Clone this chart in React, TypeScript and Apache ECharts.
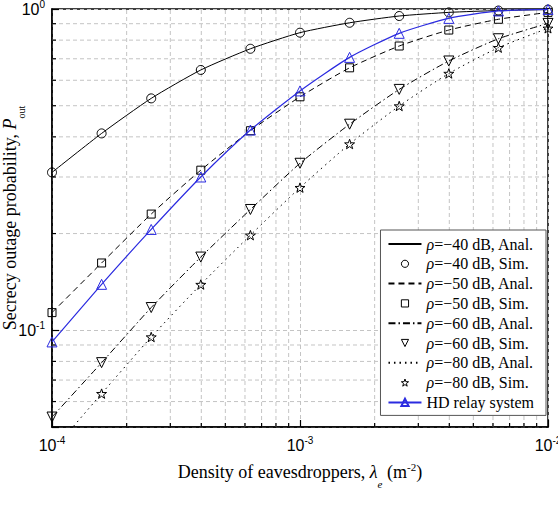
import React, { useEffect, useRef } from "react";
import * as echarts from "echarts";

// ---- data ----
const densities = [1e-4, 1.585e-4, 2.512e-4, 3.981e-4, 6.31e-4, 1e-3, 1.585e-3, 2.512e-3, 3.981e-3, 6.31e-3, 1e-2];
const anal40 = [0.31, 0.41, 0.527, 0.646, 0.752, 0.844, 0.906, 0.951, 0.976, 0.989, 0.996];
const sim40 = [0.31, 0.41, 0.527, 0.646, 0.752, 0.844, 0.906, 0.951, 0.976, 0.989, 0.996];
const anal50 = [0.1135, 0.162, 0.23, 0.315, 0.418, 0.533, 0.656, 0.767, 0.86, 0.929, 0.976];
const sim50 = [0.1135, 0.162, 0.23, 0.315, 0.418, 0.533, 0.656, 0.767, 0.86, 0.929, 0.976];
const anal60 = [0.0537, 0.0793, 0.1177, 0.169, 0.2377, 0.331, 0.438, 0.562, 0.689, 0.808, 0.902];
const sim60 = [0.0537, 0.0793, 0.1177, 0.169, 0.2377, 0.331, 0.438, 0.562, 0.689, 0.808, 0.902];
const anal80 = [0.042, 0.0635, 0.0953, 0.1388, 0.1977, 0.278, 0.38, 0.499, 0.63, 0.758, 0.871];
const sim80 = [0.042, 0.0635, 0.0953, 0.1388, 0.1977, 0.278, 0.38, 0.499, 0.63, 0.758, 0.871];
const hdRelay = [0.092, 0.139, 0.206, 0.3, 0.42, 0.556, 0.707, 0.84, 0.935, 0.986, 0.997];

const xMin = 1e-4;
const xMax = 1e-2;
const yMin = 0.05;
const yMax = 1;
const xMinorGrid = [2e-4, 3e-4, 4e-4, 5e-4, 6e-4, 7e-4, 8e-4, 9e-4, 2e-3, 3e-3, 4e-3, 5e-3, 6e-3, 7e-3, 8e-3, 9e-3];
const yMinorGrid = [0.06, 0.07, 0.08, 0.09, 0.2, 0.3, 0.4, 0.5, 0.6, 0.7, 0.8, 0.9];

const names = [
  "ρ=−40 dB, Anal.",
  "ρ=−40 dB, Sim.",
  "ρ=−50 dB, Anal.",
  "ρ=−50 dB, Sim.",
  "ρ=−60 dB, Anal.",
  "ρ=−60 dB, Sim.",
  "ρ=−80 dB, Anal.",
  "ρ=−80 dB, Sim.",
  "HD relay system",
];

const STAR = "path://M0,-10 L2.35,-3.24 L9.51,-3.09 L3.8,1.24 L5.88,8.09 L0,4 L-5.88,8.09 L-3.8,1.24 L-9.51,-3.09 L-2.35,-3.24 Z";
const BLUE = "#2b2be0";
const GRID_GRAY = "#c4c4c4";
const SERIF = "'Liberation Serif', 'Times New Roman', serif";
const SANS = "'Liberation Sans', Arial, sans-serif";

function pairs(ys: number[]) {
  return densities.map((x, i) => [x, ys[i]]);
}

function powLabel(v: number) {
  const e = Math.log10(v);
  if (Math.abs(e - Math.round(e)) > 1e-6) return "";
  const r = Math.round(e);
  return `{b|10}{s|${r === 0 ? "0" : "-" + Math.abs(r)}}`;
}

const labelRich = {
  b: { fontSize: 16, fontFamily: SANS, color: "#000", lineHeight: 20 },
  s: { fontSize: 10, fontFamily: SANS, color: "#000", lineHeight: 10, verticalAlign: "top" as const, padding: [0, 0, 4, 0] },
};

export default function App() {
  const ref = useRef<HTMLDivElement>(null);
  useEffect(() => {
    if (!ref.current) return;
    const chart = echarts.init(ref.current, undefined, { renderer: "svg" });

    const lineSeries = (name: string, ys: number[], type: any, z = 3) => ({
      name,
      type: "line",
      data: pairs(ys),
      symbol: "none",
      smooth: 0.2,
      z,
      clip: true,
      lineStyle: { color: "#000", width: 1, type },
      itemStyle: { color: "#000" },
    });
    const simSeries = (name: string, ys: number[], symbol: string, size: number, rotate = 0) => ({
      name,
      type: "line",
      data: pairs(ys),
      symbol,
      symbolSize: size,
      symbolRotate: rotate,
      symbolKeepAspect: true,
      showAllSymbol: true,
      z: 4,
      clip: true,
      lineStyle: { width: 0, opacity: 0, color: "#000" },
      itemStyle: { color: "transparent", borderColor: "#000", borderWidth: 1 },
    });

    const option: any = {
      animation: false,
      backgroundColor: "#fff",
      grid: {
        left: 52,
        right: 10,
        top: 9,
        bottom: 85,
        containLabel: false,
        outerBoundsMode: "none",
        show: true,
        borderColor: "#000",
        borderWidth: 1.5,
        backgroundColor: "transparent",
      },
      xAxis: {
        type: "log",
        logBase: 10,
        min: xMin,
        max: xMax,
        axisLine: { show: true, lineStyle: { color: "#000", width: 1.5 } },
        axisTick: { show: true, inside: true, length: 7, lineStyle: { color: "#000", width: 1.2 } },
        splitLine: { show: true, lineStyle: { color: GRID_GRAY, type: [4, 3], width: 1 } },
        axisLabel: { formatter: powLabel, rich: labelRich, margin: 8, showMinLabel: true, showMaxLabel: true, hideOverlap: false },
        name: "Density of eavesdroppers, {i|λ}{sub|e} (m{sup|-2})",
        nameLocation: "middle",
        nameGap: 34,
        nameMoveOverlap: false,
        nameTextStyle: {
          fontFamily: SERIF,
          fontSize: 18,
          color: "#000",
          rich: {
            i: { fontFamily: SERIF, fontStyle: "italic", fontSize: 18, color: "#000", lineHeight: 22 },
            sub: { fontFamily: SERIF, fontStyle: "italic", fontSize: 11, color: "#000", lineHeight: 11, verticalAlign: "bottom", padding: [0, 0, -6, 0] },
            sup: { fontFamily: SERIF, fontSize: 11, color: "#000", lineHeight: 11, verticalAlign: "top" },
          },
        },
      },
      yAxis: {
        type: "log",
        logBase: 10,
        min: yMin,
        max: yMax,
        axisLine: { show: true, lineStyle: { color: "#000", width: 1.5 } },
        axisTick: { show: true, inside: true, length: 7, lineStyle: { color: "#000", width: 1.2 } },
        splitLine: { show: true, lineStyle: { color: GRID_GRAY, type: [4, 3], width: 1 } },
        axisLabel: { formatter: powLabel, rich: labelRich, margin: 7, hideOverlap: false },
        name: "Secrecy outage probability, {i|P}{sub|out}",
        nameLocation: "middle",
        nameRotate: 90,
        nameGap: 31,
        nameMoveOverlap: false,
        nameTextStyle: {
          fontFamily: SERIF,
          fontSize: 18,
          color: "#000",
          rich: {
            i: { fontFamily: SERIF, fontStyle: "italic", fontSize: 18, color: "#000", lineHeight: 22 },
            sub: { fontFamily: SERIF, fontSize: 10, color: "#000", lineHeight: 10, verticalAlign: "bottom", padding: [0, 0, -5, 0] },
          },
        },
      },
      legend: {
        orient: "vertical",
        right: 12,
        top: 230,
        padding: [6, 12, 5, 7],
        itemWidth: 33,
        itemHeight: 9,
        itemGap: 3.8,
        backgroundColor: "#fff",
        borderColor: "#555",
        borderWidth: 1,
        borderRadius: 0,
        selectedMode: false,
        data: names.map((n) =>
          n.includes("Anal.")
            ? { name: n, itemStyle: { opacity: 0 } }
            : n.includes("Sim.")
            ? {
                name: n,
                lineStyle: { opacity: 0, width: 0 },
                itemStyle: { color: "transparent", borderColor: "#000", borderWidth: 1 },
              }
            : { name: n }
        ),
        formatter: (n: string) => (n.startsWith("ρ") ? `{i|ρ}${n.slice(1)}` : n),
        textStyle: {
          fontFamily: SERIF,
          fontSize: 16,
          color: "#000",
          lineHeight: 14,
          rich: { i: { fontFamily: SERIF, fontStyle: "italic", fontSize: 16, color: "#000", lineHeight: 14 } },
        },
      },
      series: [
        {
          type: "custom",
          name: "xgrid",
          silent: true,
          z: 1,
          clip: false,
          data: xMinorGrid.map((v) => [v, yMin]),
          renderItem: (params: any, api: any) => {
            const v = api.value(0);
            const p0 = api.coord([v, yMin]);
            const p1 = api.coord([v, yMax]);
            return {
              type: "group",
              children: [
                { type: "line", shape: { x1: p0[0], y1: p0[1], x2: p1[0], y2: p1[1] }, style: { stroke: GRID_GRAY, lineWidth: 1, lineDash: [4, 3] } },
                { type: "line", shape: { x1: p0[0], y1: p0[1], x2: p0[0], y2: p0[1] - 4 }, style: { stroke: "#000", lineWidth: 1.2 } },
              ],
            };
          },
        },
        {
          type: "custom",
          name: "ygrid",
          silent: true,
          z: 1,
          clip: false,
          data: yMinorGrid.map((v) => [xMin, v]),
          renderItem: (params: any, api: any) => {
            const v = api.value(1);
            const p0 = api.coord([xMin, v]);
            const p1 = api.coord([xMax, v]);
            return {
              type: "group",
              children: [
                { type: "line", shape: { x1: p0[0], y1: p0[1], x2: p1[0], y2: p1[1] }, style: { stroke: GRID_GRAY, lineWidth: 1, lineDash: [4, 3] } },
                { type: "line", shape: { x1: p0[0], y1: p0[1], x2: p0[0] + 4, y2: p0[1] }, style: { stroke: "#000", lineWidth: 1.2 } },
              ],
            };
          },
        },
        lineSeries(names[0], anal40, "solid"),
        simSeries(names[1], sim40, "circle", 9),
        lineSeries(names[2], anal50, [6, 4]),
        simSeries(names[3], sim50, "rect", 8),
        lineSeries(names[4], anal60, [7, 3, 1.5, 3]),
        simSeries(names[5], sim60, "triangle", 10, 180),
        lineSeries(names[6], anal80, [1.5, 4]),
        simSeries(names[7], sim80, STAR, 10),
        {
          name: names[8],
          type: "line",
          data: pairs(hdRelay),
          symbol: "triangle",
          symbolSize: 10,
          showAllSymbol: true,
          smooth: 0.2,
          z: 5,
          clip: true,
          lineStyle: { color: BLUE, width: 1.2 },
          itemStyle: { color: "transparent", borderColor: BLUE, borderWidth: 1 },
        },
      ],
    };
    chart.setOption(option);
    return () => chart.dispose();
  }, []);
  return (
    <div
      ref={ref}
      style={{ position: "fixed", left: 0, top: 0, width: 558, height: 512, background: "#fff" }}
    />
  );
}
